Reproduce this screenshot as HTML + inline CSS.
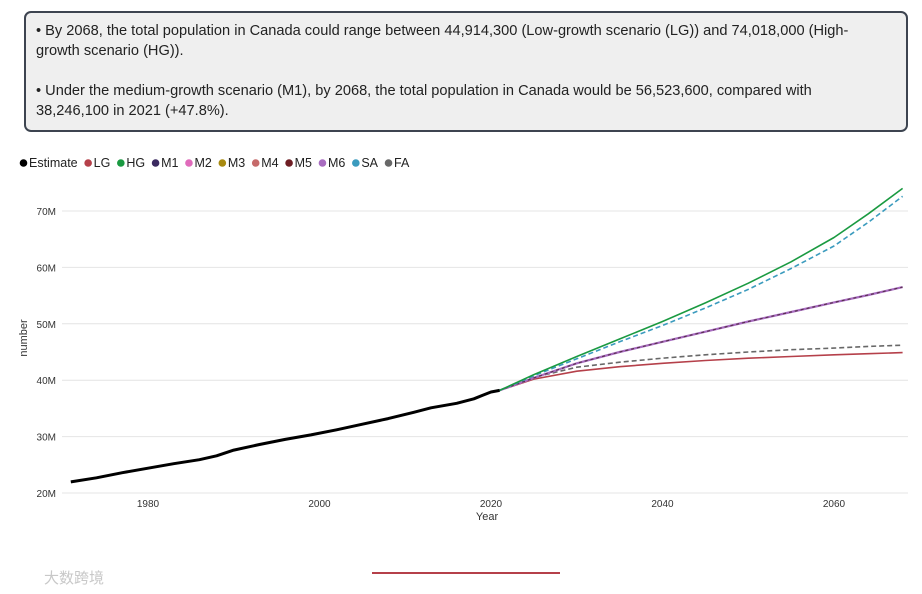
<!DOCTYPE html>
<html><head><meta charset="utf-8">
<style>
body{margin:0;width:922px;height:594px;background:#fff;font-family:"Liberation Sans",Arial,sans-serif;position:relative;overflow:hidden}
#box{position:absolute;left:24px;top:11px;width:828px;height:101px;border:2px solid #3d4450;border-radius:7px;background:#efefef;padding:8px 42px 8px 10px;font-size:14.6px;line-height:20px;color:#222}
#box p{margin:0 0 20px 0}
svg{position:absolute;left:0;top:0}
</style></head><body>
<div id="box">
<p>• By 2068, the total population in Canada could range between 44,914,300 (Low-growth scenario (LG)) and 74,018,000 (High-growth scenario (HG)).</p>
<p>• Under the medium-growth scenario (M1), by 2068, the total population in Canada would be 56,523,600, compared with 38,246,100 in 2021 (+47.8%).</p>
</div>
<svg id="chart" width="922" height="594"></svg>
<script>
const estYears=[1971,1974,1977,1980,1983,1986,1988,1990,1993,1996,1999,2002,2005,2008,2011,2013,2016,2018,2019,2020,2021];
const estVals=[21.96,22.7,23.6,24.4,25.2,25.9,26.6,27.6,28.6,29.5,30.3,31.2,32.2,33.2,34.3,35.1,35.9,36.7,37.3,37.9,38.2];
const projYears=[2021,2025,2030,2035,2040,2045,2050,2055,2060,2064,2068];
const LG=[38.2,40.2,41.6,42.4,43.0,43.5,43.9,44.2,44.5,44.7,44.9];
const HG=[38.2,41.0,44.2,47.3,50.4,53.7,57.2,61.0,65.3,69.5,74.0];
const M1=[38.2,40.4,43.0,45.0,46.8,48.6,50.4,52.1,53.8,55.1,56.5];
const SA=[38.2,40.8,43.8,46.8,49.7,52.8,56.1,59.8,63.8,68.0,72.6];
const FA=[38.2,40.5,42.3,43.2,43.9,44.5,45.0,45.4,45.7,46.0,46.2];
const xTicks=[1980,2000,2020,2040,2060];
const yTicks=[20,30,40,50,60,70];
const legendNames=["Estimate","LG","HG","M1","M2","M3","M4","M5","M6","SA","FA"];
const legendColors=["#000","#b5404a","#1a9a41","#3b2a60","#e06bbb","#a88a10","#c66a6a","#6e1e24","#a86cc0","#3b9bbe","#686868"];
const NS="http://www.w3.org/2000/svg";
const svg=document.getElementById('chart');
const xs=y=>148+(y-1980)*(834-148)/80;
const ys=v=>493-(v-20)*(493-211)/50;
function el(t,a){const e=document.createElementNS(NS,t);for(const k in a)e.setAttribute(k,a[k]);svg.appendChild(e);return e;}
yTicks.forEach(v=>{
 const g=el('line',{x1:62,x2:908,y1:ys(v),y2:ys(v),stroke:'#e4e4e4','stroke-width':1});
 
 
 const t=el('text',{x:56,y:ys(v)+4,'text-anchor':'end','font-size':10,fill:'#333'});t.textContent=v+'M';
 
 
});
xTicks.forEach(v=>{
 const t=el('text',{x:xs(v),y:507,'text-anchor':'middle','font-size':10,fill:'#333'});t.textContent=v;
 
 
});
let t=el('text',{x:487,y:520,'text-anchor':'middle','font-size':11,fill:'#333'});t.textContent='Year';


t=el('text',{x:27,y:338,'text-anchor':'middle','font-size':11,fill:'#333',transform:'rotate(-90 27 338)'});t.textContent='number';


function line(xsArr,vals,color,w,dash,name){
 const d=vals.map((v,i)=>(i?'L':'M')+xs(xsArr[i]).toFixed(1)+','+ys(v).toFixed(1)).join('');
 const p=el('path',{d:d,fill:'none',stroke:color,'stroke-width':w,'stroke-linejoin':'round'});
 if(dash)p.setAttribute('stroke-dasharray',dash);
 
 
}
line(projYears,FA,'#686868',1.6,'5,3','series-fa');
line(projYears,LG,'#b5404a',1.6,null,'series-lg');
line(projYears,M1,'#a86cc0',2.2,null,'series-m6');
line(projYears,M1,'#5a3050',1.2,'3,3','series-m1');
line(projYears,SA,'#3b9bbe',1.6,'5,3','series-sa');
line(projYears,HG,'#1a9a41',1.6,null,'series-hg');
line(estYears,estVals,'#000',3,null,'series-estimate');
let lx=20;
legendNames.forEach((n,i)=>{
 const c=el('circle',{cx:lx+3.5,cy:163,r:3.8,fill:legendColors[i]});
 
 
 const tx=el('text',{x:lx+9,y:167,'font-size':12.5,fill:'#222'});tx.textContent=n;
 
 
 lx+=9+tx.getComputedTextLength()+7;
});
const bl=el('line',{x1:372,x2:560,y1:573,y2:573,stroke:'#b5404a','stroke-width':2});


const wm=el('text',{x:44,y:583,'font-size':15,fill:'#c8c8c8','font-family':'"Liberation Sans","Noto Sans CJK SC",sans-serif'});wm.textContent='大数跨境';


</script>
</body></html>
